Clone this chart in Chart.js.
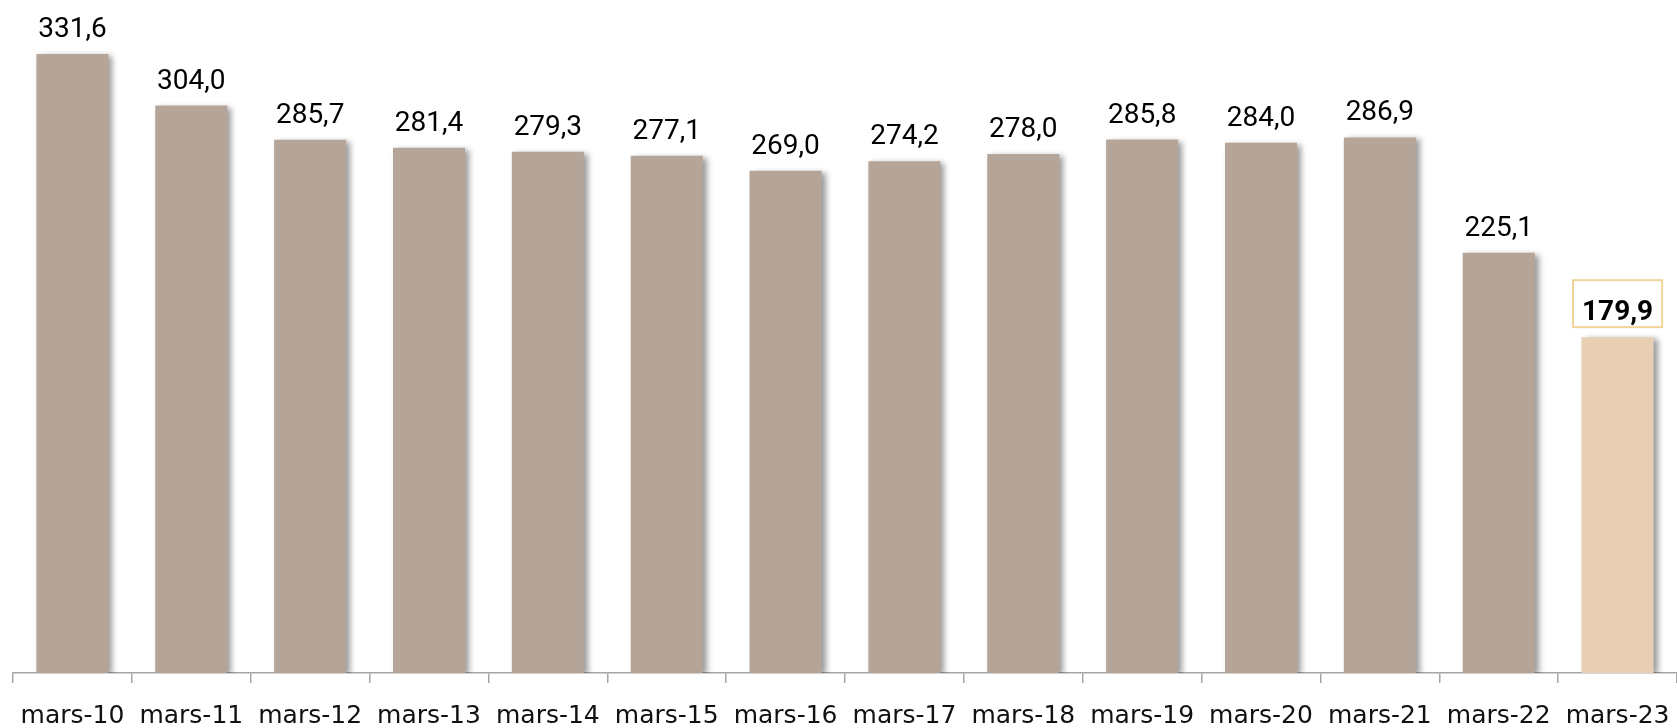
<!DOCTYPE html>
<html>
<head>
    <title>mars-10 a mars-23</title>
    <script src="https://cdn.jsdelivr.net/npm/chart.js"></script>
    <style>
        body {
            margin: 0;
            padding: 0;
            background-color: #ffffff;
        }
        #wrap {
            width: 1677px;
            height: 728px;
        }
    </style>
</head>
<body>
    <div id="wrap">
        <canvas id="chart"></canvas>
    </div>
<script>
        // data
        const categories = ['mars-10', 'mars-11', 'mars-12', 'mars-13', 'mars-14', 'mars-15', 'mars-16',
                            'mars-17', 'mars-18', 'mars-19', 'mars-20', 'mars-21', 'mars-22', 'mars-23'];
        const values = [331.6, 304.0, 285.7, 281.4, 279.3, 277.1, 269.0, 274.2, 278.0, 285.8, 284.0, 286.9, 225.1, 179.9];
        const highlightIndex = 13;

        const barColor = '#b5a599';
        const highlightColor = '#e8cfb4';

        // french decimal comma
        function fmt(v) {
            return v.toFixed(1).replace('.', ',');
        }

        // shadow under the bars + value labels on top
        const barDecor = {
            id: 'barDecor',
            beforeDatasetsDraw(chart) {
                const ctx = chart.ctx;
                ctx.save();
                ctx.shadowColor = 'rgba(0, 0, 0, 0.4)';
                ctx.shadowBlur = 6;
                ctx.shadowOffsetX = 4;
                ctx.shadowOffsetY = 2;
            },
            afterDatasetsDraw(chart) {
                const ctx = chart.ctx;
                ctx.restore();

                const meta = chart.getDatasetMeta(0);
                ctx.save();
                ctx.textAlign = 'center';
                ctx.textBaseline = 'alphabetic';
                ctx.fillStyle = '#000';
                meta.data.forEach((bar, i) => {
                    const txt = fmt(values[i]);
                    const y = bar.y - 17;
                    if (i === highlightIndex) {
                        ctx.font = 'bold 28px Roboto';
                        const w = ctx.measureText(txt).width;
                        ctx.fillStyle = '#fff';
                        ctx.fillRect(bar.x - w / 2 - 9, y - 40, w + 18, 47);
                        ctx.strokeStyle = '#f0d49c';
                        ctx.lineWidth = 2;
                        ctx.strokeRect(bar.x - w / 2 - 9, y - 40, w + 18, 47);
                        ctx.fillStyle = '#000';
                    } else {
                        ctx.font = '28px Roboto';
                    }
                    ctx.fillText(txt, bar.x, y);
                });
                ctx.restore();
            }
        };

        window.onload = function() {
            const ctx = document.getElementById('chart').getContext('2d');
            new Chart(ctx, {
                type: 'bar',
                data: {
                    labels: categories,
                    datasets: [{
                        data: values,
                        backgroundColor: values.map((v, i) => i === highlightIndex ? highlightColor : barColor),
                        borderWidth: 0,
                        barPercentage: 0.606,
                        categoryPercentage: 1.0
                    }]
                },
                options: {
                    responsive: true,
                    maintainAspectRatio: false,
                    animation: false,
                    events: [],
                    layout: {
                        // negative bottom so the tall label line sits under the axis
                        padding: { left: 13, right: -6, top: 1, bottom: -22 }
                    },
                    plugins: {
                        legend: { display: false },
                        tooltip: { enabled: false }
                    },
                    scales: {
                        x: {
                            grid: {
                                display: true,
                                drawOnChartArea: false,
                                drawTicks: true,
                                tickLength: 10,
                                color: '#a6a6a6',
                                lineWidth: 1.5
                            },
                            border: {
                                display: true,
                                color: '#a6a6a6',
                                width: 1.5
                            },
                            ticks: {
                                color: '#111',
                                font: { family: 'DejaVu Sans', size: 25, lineHeight: 2.68 },
                                padding: 0,
                                maxRotation: 0,
                                autoSkip: false
                            }
                        },
                        y: {
                            display: false,
                            min: 0,
                            max: 360
                        }
                    }
                },
                plugins: [barDecor]
            });
        };
    </script>
</body>
</html>
